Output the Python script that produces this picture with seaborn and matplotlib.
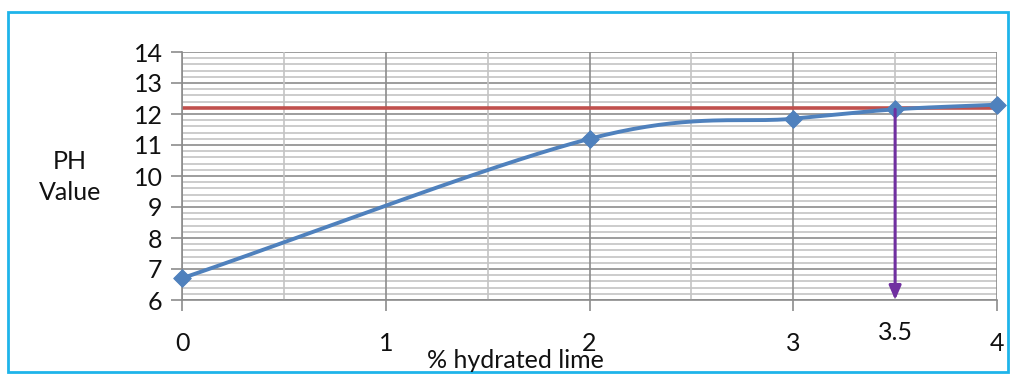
import numpy as np
import pandas as pd
import matplotlib
matplotlib.use("Agg")
import matplotlib.pyplot as plt
import seaborn as sns
from matplotlib.patches import Rectangle

# Data
lime_pct = [0, 2, 3, 3.5, 4]
ph_value = [6.7, 11.2, 11.85, 12.15, 12.3]
target_ph = 12.2
chosen_pct = 3.5
x_ticks = [0, 1, 2, 3, 4]
y_ticks = [6, 7, 8, 9, 10, 11, 12, 13, 14]

sns.set_theme(style="white")
plt.rcParams['font.family'] = ['Lato', 'DejaVu Sans']
FS = 18

fig = plt.figure(figsize=(10.13, 3.74), dpi=100)
ax = fig.add_axes([182/1013, 1-300/374, (997-182)/1013, (300-52)/374])

# smoothed line (Catmull-Rom through the data points)
def catmull(xs, ys, n=40):
    P = np.column_stack([xs, ys]).astype(float)
    P = np.vstack([2*P[0]-P[1], P, 2*P[-1]-P[-2]])
    out = []
    for i in range(1, len(P)-2):
        p0, p1, p2, p3 = P[i-1], P[i], P[i+1], P[i+2]
        t = np.linspace(0, 1, n)[:, None]
        seg = 0.5*((2*p1) + (-p0+p2)*t + (2*p0-5*p1+4*p2-p3)*t**2 + (-p0+3*p1-3*p2+p3)*t**3)
        out.append(seg if i == len(P)-3 else seg[:-1])
    return np.vstack(out)

curve = catmull(lime_pct, ph_value)
df_curve = pd.DataFrame({"x": curve[:, 0], "y": curve[:, 1]})
df_pts = pd.DataFrame({"x": lime_pct, "y": ph_value})

# grid
for v in np.arange(6, 14.01, 0.2):
    major = abs(v - round(v)) < 1e-6
    ax.axhline(v, color="#8c8c8c" if major else "#c4c4c4", lw=1.2, zorder=0)
for v in np.arange(0, 4.01, 0.5):
    major = abs(v - round(v)) < 1e-6
    ax.axvline(v, color="#8c8c8c" if major else "#c4c4c4", lw=1.2, zorder=0)

ax.plot([0, 4], [target_ph, target_ph], color="#C0504D", lw=2.6, zorder=2, solid_capstyle="butt")

sns.lineplot(data=df_curve, x="x", y="y", ax=ax, color="#4F81BD", lw=2.8, sort=False, zorder=3)
sns.scatterplot(data=df_pts, x="x", y="y", ax=ax, marker="D", s=80, color="#4F81BD",
                edgecolor="#4F81BD", zorder=4, clip_on=False)

ax.annotate("", xy=(chosen_pct, 6.0), xytext=(chosen_pct, ph_value[3]),
            arrowprops=dict(arrowstyle="-|>,head_length=0.7,head_width=0.3", color="#7030A0", lw=2.2,
                            shrinkA=0, shrinkB=0), zorder=5)

ax.set_xlim(0, 4)
ax.set_ylim(6, 14)
ax.set_xticks(x_ticks)
ax.set_xticklabels([str(t) for t in x_ticks])
ax.set_yticks(y_ticks)
ax.set_yticklabels([str(t) for t in y_ticks])
ax.tick_params(axis="x", length=8, width=1.2, color="#8c8c8c", pad=15, labelsize=FS, direction="out",
               labelcolor="#111111")
ax.tick_params(axis="y", length=8, width=1.2, color="#8c8c8c", pad=6, labelsize=FS, direction="out",
               labelcolor="#111111")
ax.tick_params(bottom=True, left=True)
for s in ["top", "right"]:
    ax.spines[s].set_visible(False)
for s in ["left", "bottom"]:
    ax.spines[s].set_color("#8c8c8c")
    ax.spines[s].set_linewidth(1.2)

ax.set_xlabel("")
ax.set_ylabel("")
ax.text(chosen_pct, 4.95, "3.5", ha="center", va="center", fontsize=FS, color="#111111")
fig.text(515/1013, 1-360/374, "% hydrated lime", ha="center", va="center", fontsize=FS, color="#111111")
fig.text(70/1013, 1-177/374, "PH\nValue", ha="center", va="center", fontsize=FS, color="#111111",
         linespacing=1.45)

fig.add_artist(Rectangle((8/1013, 2/374), 1000/1013, 360/374, transform=fig.transFigure,
                         fill=False, edgecolor="#1EB4EA", lw=2))

fig.savefig("out.png", dpi=100)
